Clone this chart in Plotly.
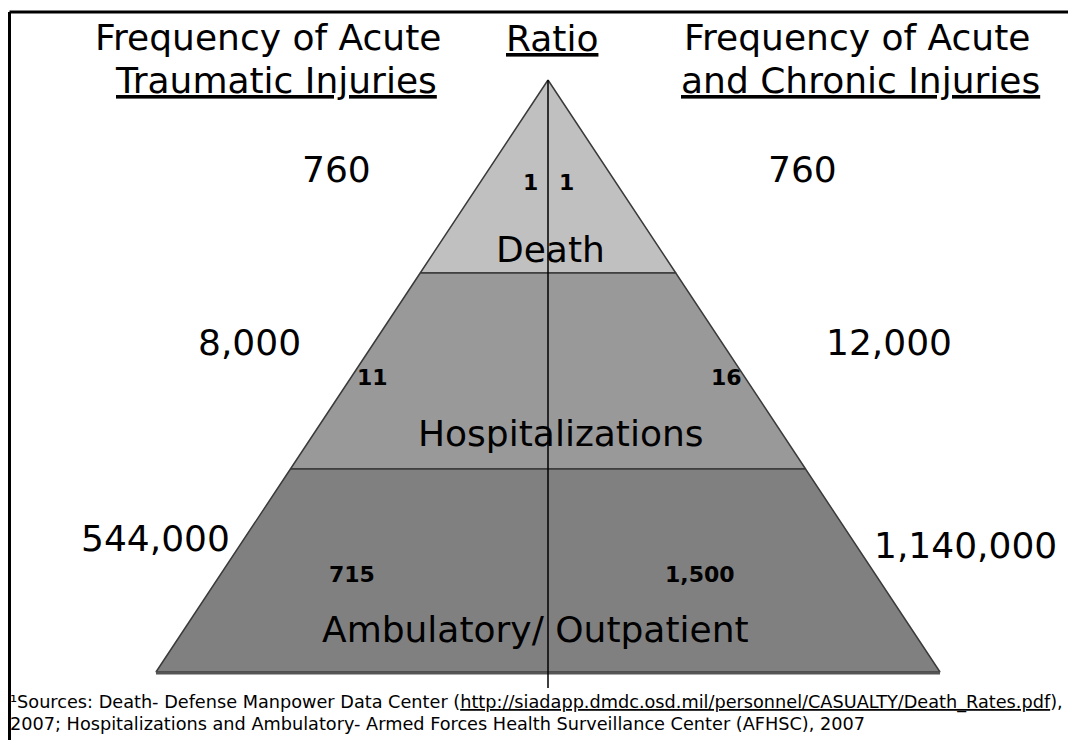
import plotly.graph_objects as go

# ---- data ----
categories = ["Death", "Hospitalizations", "Ambulatory/ Outpatient"]
acute_traumatic = ["760", "8,000", "544,000"]
acute_chronic = ["760", "12,000", "1,140,000"]
ratio_left = ["1", "11", "715"]
ratio_right = ["1", "16", "1,500"]
band_colors = ["#c0c0c0", "#999999", "#808080"]

FONT = "DejaVu Sans, sans-serif"

# ---- geometry (pixel space of the page; page body has an 8px margin) ----
W, H = 1076, 740
OFF = 8
apex_x, apex_y = 548, 80
base_y = 672
half_base = 392
band_bottoms = [273, 469, 672]

def half_w(y):
    return half_base * (y - apex_y) / (base_y - apex_y)

fig = go.Figure()

top = apex_y
for i, cat in enumerate(categories):
    bot = band_bottoms[i]
    ht, hb = half_w(top), half_w(bot)
    xs = [apex_x - ht, apex_x + ht, apex_x + hb, apex_x - hb, apex_x - ht]
    ys = [top, top, bot, bot, top]
    fig.add_trace(go.Scatter(x=xs, y=ys, mode="lines", fill="toself",
                             fillcolor=band_colors[i],
                             line=dict(color="#3a3a3a", width=1.5),
                             hoverinfo="skip", showlegend=False))
    top = bot

# base shadow line
fig.add_trace(go.Scatter(x=[apex_x - half_base, apex_x + half_base], y=[base_y + 1, base_y + 1],
                         mode="lines", line=dict(color="#555555", width=3),
                         hoverinfo="skip", showlegend=False))
# centre line
fig.add_trace(go.Scatter(x=[apex_x, apex_x], y=[apex_y, 688], mode="lines",
                         line=dict(color="#000000", width=1.5),
                         hoverinfo="skip", showlegend=False))

def ann(x, y, text, size, xanchor="center", color="#000"):
    fig.add_annotation(x=x, y=y, text=text, showarrow=False, xanchor=xanchor,
                       yanchor="middle", font=dict(family=FONT, size=size, color=color))

# headings
ann(268, 37, "Frequency of Acute", 36)
ann(276, 80, "<u>Traumatic Injuries</u>", 36)
ann(552, 38, "<u>Ratio</u>", 36)
ann(857, 37, "Frequency of Acute", 36)
ann(860, 80, "<u>and Chronic Injuries</u>", 36)

# frequency numbers
left_pos = [(336, 169), (249, 342), (155, 538)]
right_pos = [(802, 169), (889, 342), (965, 545)]
for i in range(3):
    ann(left_pos[i][0], left_pos[i][1], acute_traumatic[i], 36)
    ann(right_pos[i][0], right_pos[i][1], acute_chronic[i], 36)

# ratios
rl_pos = [(530, 182), (372, 377), (352, 574)]
rr_pos = [(566, 182), (726, 377), (700, 574)]
for i in range(3):
    ann(rl_pos[i][0], rl_pos[i][1], "<b>" + ratio_left[i] + "</b>", 22)
    ann(rr_pos[i][0], rr_pos[i][1], "<b>" + ratio_right[i] + "</b>", 22)

# category labels
cat_pos = [(550, 249), (561, 433), (535, 629)]
for i, cat in enumerate(categories):
    ann(cat_pos[i][0], cat_pos[i][1], cat, 36)

# sources
ann(8, 702, "\u00b9Sources: Death- Defense Manpower Data Center "
    "(<u>http://siadapp.dmdc.osd.mil/personnel/CASUALTY/Death_Rates.pdf</u>),", 17.7, xanchor="left")
ann(8, 724, "2007; Hospitalizations and Ambulatory- Armed Forces Health Surveillance Center (AFHSC), 2007",
    17.7, xanchor="left")

# frame lines
fig.add_shape(type="line", x0=9.5, y0=12, x1=W, y1=12, line=dict(color="#000", width=3))
fig.add_shape(type="line", x0=9.5, y0=12, x1=9.5, y1=H, line=dict(color="#000", width=3))

fig.update_xaxes(range=[OFF, W], visible=False, fixedrange=True)
fig.update_yaxes(range=[H, OFF], visible=False, fixedrange=True)
fig.update_layout(width=W - OFF, height=H - OFF, margin=dict(l=0, r=0, t=0, b=0),
                  paper_bgcolor="white", plot_bgcolor="white")

fig.write_html("out.html")
